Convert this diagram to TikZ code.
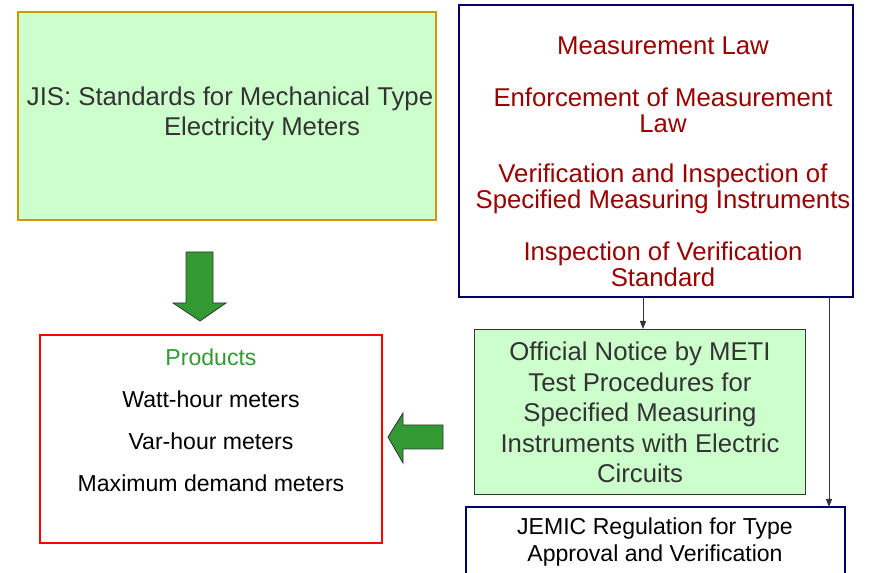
\documentclass[tikz,border=0pt]{standalone}
\usepackage{fontspec}
\setmainfont{Liberation Sans}
\usetikzlibrary{arrows.meta}
\definecolor{paleg}{HTML}{CCFFCC}
\definecolor{gold}{HTML}{CC9900}
\definecolor{navy}{HTML}{000066}
\definecolor{dred}{HTML}{990000}
\definecolor{dgray}{HTML}{333333}
\definecolor{bgreen}{HTML}{339933}
\tikzset{
  box/.style={rectangle, inner sep=0pt, outer sep=0pt},
  bigtxt/.style={font=\fontsize{19.3pt}{22.5pt}\selectfont, align=center},
  smtxt/.style={font=\fontsize{17.3pt}{20.25pt}\selectfont, align=center},
  conn/.style={draw=dgray, line width=0.75pt, -{Triangle[length=6pt,width=4.5pt]}},
  blockarrow/.style={fill=bgreen, draw=black!80, line width=0.6pt, line join=miter}
}
\begin{document}
\begin{tikzpicture}[x=0.75pt,y=-0.75pt]
\path[use as bounding box] (0,0) rectangle (869,573);
% JIS box
\node[box, fill=paleg, draw=gold, line width=2pt, minimum width=418*0.75pt, minimum height=208*0.75pt] (jis) at (227,116) {};
\node[bigtxt, text=dgray] (jistxt) at (230,113.5) {JIS: Standards for Mechanical Type\\\hspace*{48pt}Electricity Meters};
% Measurement law box
\node[box, fill=white, draw=navy, line width=2.2pt, minimum width=394*0.75pt, minimum height=292*0.75pt] (meas) at (656,151) {};
\node[font=\fontsize{19.3pt}{19.5pt}\selectfont, align=center, text=dred] (meastxt) at (663,162) {Measurement Law\\[19.5pt]Enforcement of Measurement\\Law\\[18pt]Verification and Inspection of\\Specified Measuring Instruments\\[19.5pt]Inspection of Verification\\Standard};
% Products box
\node[box, fill=white, draw=red, line width=2pt, minimum width=342*0.75pt, minimum height=208*0.75pt] (prod) at (211,439) {};
\node[font=\fontsize{17.3pt}{31.5pt}\selectfont, align=center, text=black] (prodtxt) at (211,420.5) {\textcolor{bgreen}{Products}\\Watt-hour meters\\Var-hour meters\\Maximum demand meters};
% Official notice box
\node[box, fill=paleg, draw=dgray, line width=0.7pt, minimum width=331*0.75pt, minimum height=165*0.75pt] (off) at (639.5,411.5) {};
\node[font=\fontsize{19.3pt}{22.9pt}\selectfont, align=center, text=dgray] (offtxt) at (640,412.5) {Official Notice by METI\\Test Procedures for\\Specified Measuring\\Instruments with Electric\\Circuits};
% JEMIC box
\node[box, fill=white, draw=navy, line width=2.2pt, minimum width=379*0.75pt, minimum height=70*0.75pt] (jemic) at (655.5,542) {};
\node[smtxt, text=black] (jemictxt) at (655,542.5) {JEMIC Regulation for Type\\Approval and Verification};
% connectors
\coordinate (c1) at (643,0);
\coordinate (c2) at (829,0);
\draw[conn] (meas.south -| c1) -- (off.north -| c1);
\draw[conn] (meas.south -| c2) -- (jemic.north -| c2);
% block arrows
\draw[blockarrow] (186,252) -- (213,252) -- (213,303) -- (226,303) -- (200,321) -- (173,303) -- (186,303) -- cycle;
\draw[blockarrow] (443,425) -- (443,449) -- (403,449) -- (403,463) -- (388,437) -- (403,413) -- (403,425) -- cycle;
\end{tikzpicture}
\end{document}
